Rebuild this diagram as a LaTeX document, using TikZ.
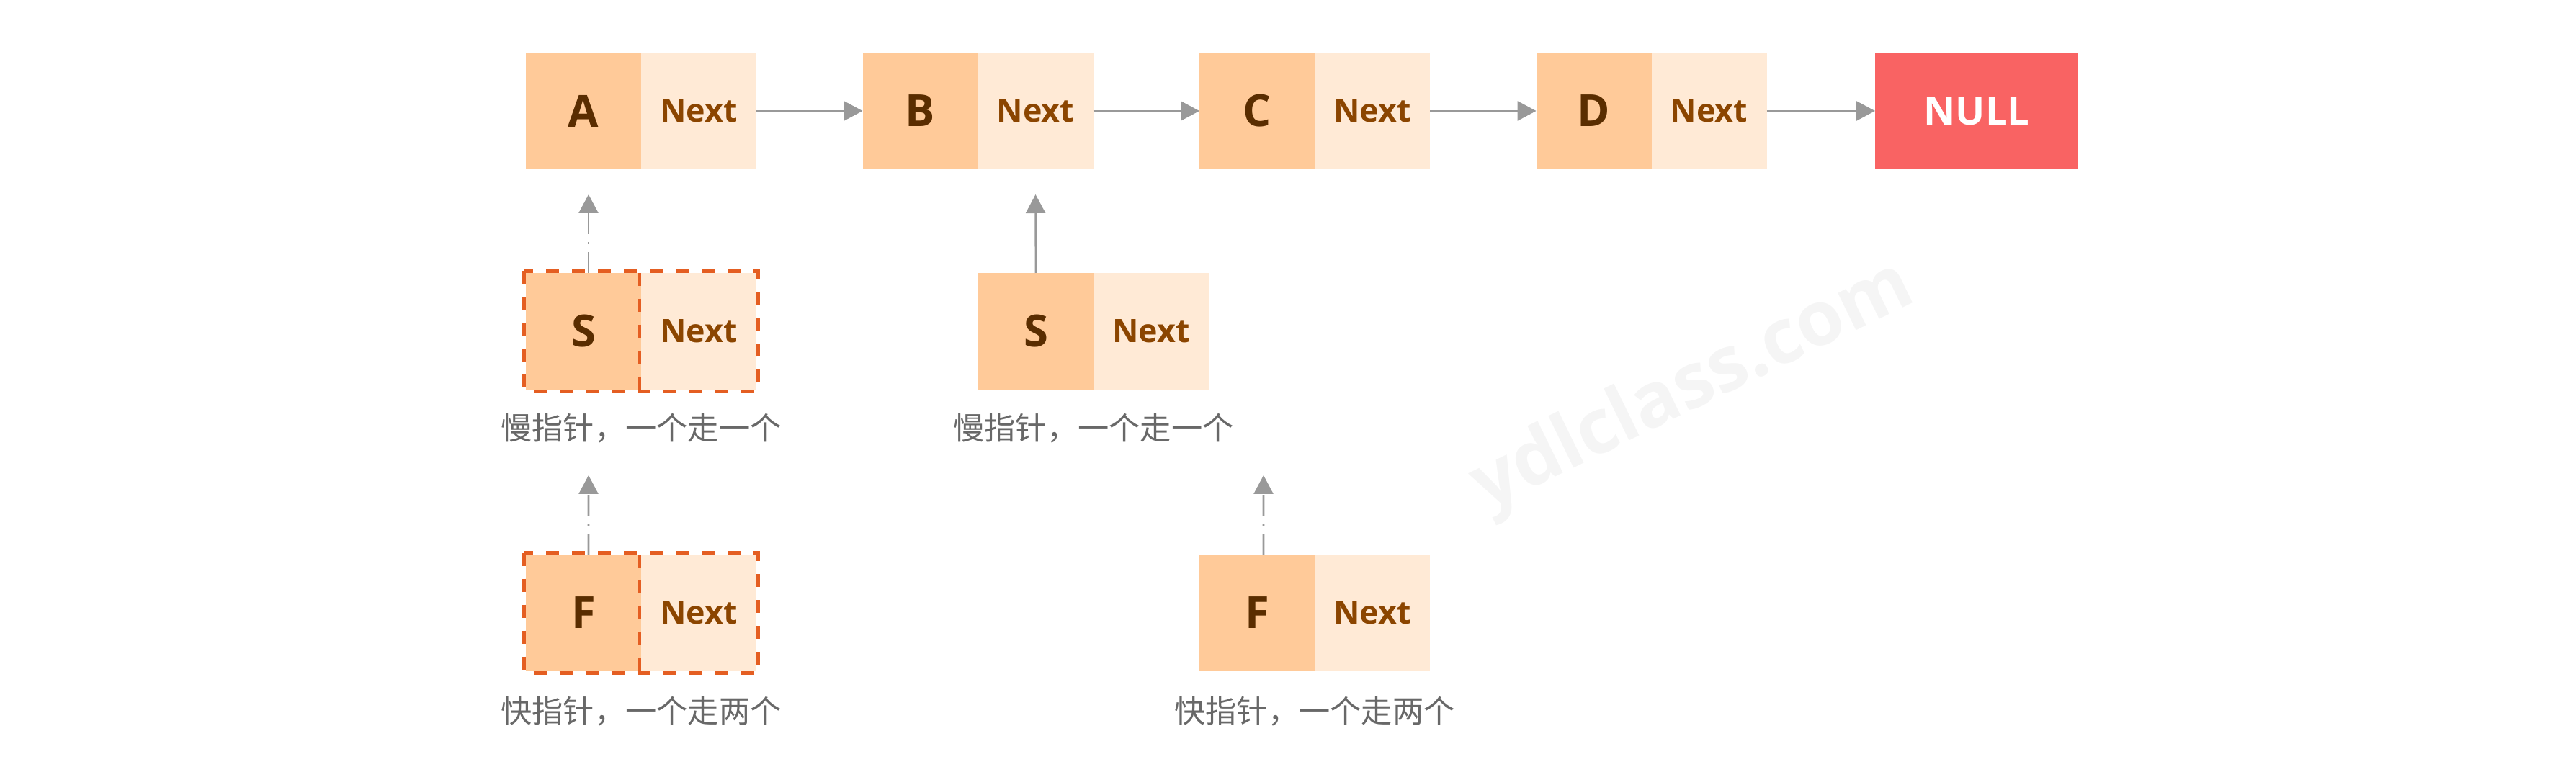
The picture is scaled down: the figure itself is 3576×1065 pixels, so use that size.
\documentclass[tikz,border=0pt]{standalone}
\usepackage{fontspec}
\setmainfont{Open Sans}
\newfontfamily\cjk{Noto Sans CJK SC}
\usetikzlibrary{positioning,arrows.meta}

\definecolor{dataFill}{HTML}{FFCA99}
\definecolor{nextFill}{HTML}{FFEAD6}
\definecolor{letterBrown}{HTML}{5A2D00}
\definecolor{nextBrown}{HTML}{8B4500}
\definecolor{nullRed}{HTML}{F96363}
\definecolor{linkGray}{HTML}{999999}
\definecolor{frameOrange}{HTML}{E45E22}
\definecolor{noteGray}{HTML}{686868}
\definecolor{markGray}{HTML}{F5F5F5}

\tikzset{
  datacell/.style={fill=dataFill, minimum width=16mm, minimum height=16.2mm, inner sep=0pt, outer sep=0pt,
    text=letterBrown, font=\bfseries\fontsize{17.5}{20}\selectfont},
  nextcell/.style={datacell, fill=nextFill, text=nextBrown, font=\bfseries\fontsize{12.75}{15}\selectfont},
  nullcell/.style={datacell, fill=nullRed, minimum width=28.2mm, text=white, font=\bfseries\fontsize{15.5}{18}\selectfont},
  link/.style={draw=linkGray, line width=0.27mm, -{Triangle[length=2.6mm,width=2.7mm]}},
  movedash/.style={link, dash pattern=on 2.9mm off 1.1mm on 0.3mm off 1.1mm},
  ptrframe/.style={draw=frameOrange, line width=0.46mm, dash pattern=on 1.8mm off 1.8mm},
  note/.style={text=noteGray, font=\cjk\fontsize{12.3}{14}\selectfont, anchor=base},
}

\begin{document}
\begin{tikzpicture}[x=0.1mm, y=-0.1mm]
        \useasboundingbox (0,0) rectangle (3576,1065);
        % Watermark
        \node[rotate=26, anchor=base, text=markGray, font=\bfseries\fontsize{30}{36}\selectfont] (mark) at (2363,563) {ydlclass.com};
        % Linked list
        \node[datacell] (A) at (810,154) {A};
        \node[nextcell, right=0pt of A] (An) {Next};
        \node[datacell] (B) at (1277.5,154) {B};
        \node[nextcell, right=0pt of B] (Bn) {Next};
        \node[datacell] (C) at (1745,154) {C};
        \node[nextcell, right=0pt of C] (Cn) {Next};
        \node[datacell] (D) at (2212.5,154) {D};
        \node[nextcell, right=0pt of D] (Dn) {Next};
        \node[nullcell] (null) at (2744,154) {NULL};
        \draw[link] (An) -- (B);
        \draw[link] (Bn) -- (C);
        \draw[link] (Cn) -- (D);
        \draw[link] (Dn) -- (null);
        % Start: both pointers on A
        \node[datacell] (S1) at (810,460) {S};
        \node[nextcell, right=0pt of S1] (S1n) {Next};
        \draw[ptrframe] ([shift={(-2.5,-2.5)}]S1.north west) rectangle ([shift={(2.5,2.5)}]S1n.south east);
        \draw[ptrframe] ([xshift=-0.2mm]S1.north east) -- ([xshift=-0.2mm]S1.south east);
        \node[note] (S1note) at (890,611) {慢指针，一个走一个};
        \node[datacell] (F1) at (810,851) {F};
        \node[nextcell, right=0pt of F1] (F1n) {Next};
        \draw[ptrframe] ([shift={(-2.5,-2.5)}]F1.north west) rectangle ([shift={(2.5,2.5)}]F1n.south east);
        \draw[ptrframe] ([xshift=-0.2mm]F1.north east) -- ([xshift=-0.2mm]F1.south east);
        \node[note] (F1note) at (890,1003) {快指针，一个走两个};
        \coordinate (F1tip) at (817,660);
        \draw[movedash] ([xshift=0.7mm]S1.north) -- ([xshift=0.7mm,yshift=-3.5mm]A.south);
        \draw[movedash] ([xshift=0.7mm]F1.north) -- (F1tip);
        % After one step
        \node[datacell] (S2) at (1438,460) {S};
        \node[nextcell, right=0pt of S2] (S2n) {Next};
        \node[note] (S2note) at (1518,611) {慢指针，一个走一个};
        \node[datacell] (F2) at (1745,851) {F};
        \node[nextcell, right=0pt of F2] (F2n) {Next};
        \node[note] (F2note) at (1825,1003) {快指针，一个走两个};
        \coordinate (F2tip) at (1754,660);
        \draw[link] (S2.north) -- ([yshift=-3.5mm]Bn.south);
        \draw[movedash] ([xshift=0.9mm]F2.north) -- (F2tip);
\end{tikzpicture}
\end{document}
